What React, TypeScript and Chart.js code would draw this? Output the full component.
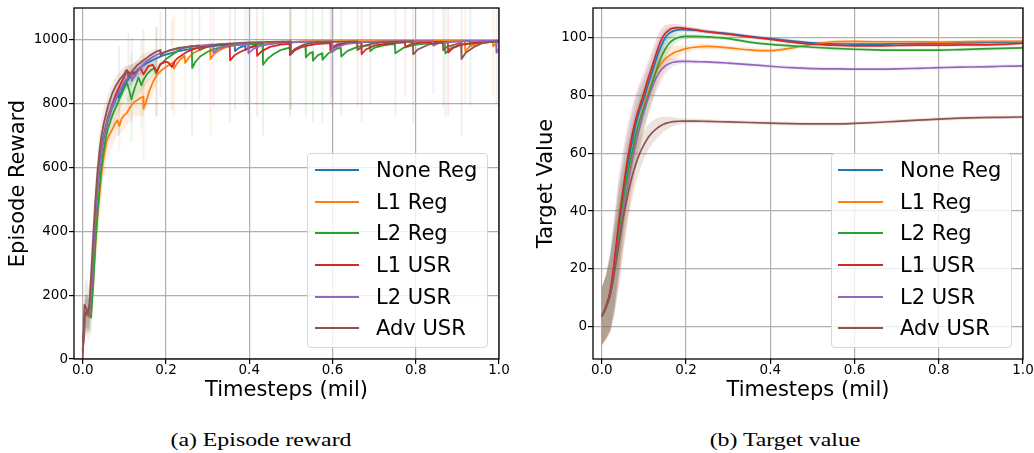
import React, { useEffect, useRef } from "react";
import { Chart, registerables } from "chart.js";

Chart.register(...registerables);
Chart.defaults.font.family = "'DejaVu Sans', sans-serif";

type Pt = [number, number];
type Spike = [number, number, number];

const seriesNames = ["None Reg", "L1 Reg", "L2 Reg", "L1 USR", "L2 USR", "Adv USR"];
const seriesColors = ["#1f77b4", "#ff7f0e", "#2ca02c", "#d62728", "#9467bd", "#8c564b"];

const xTicks = [0, 0.2, 0.4, 0.6, 0.8, 1.0];
const rewardTicks = [0, 200, 400, 600, 800, 1000];
const targetTicks = [0, 20, 40, 60, 80, 100];

// ---- Episode reward: [timesteps (mil), reward] ----
const noneRegReward: Pt[] = [
  [0, 30], [0.005, 140], [0.01, 150], [0.015, 140], [0.02, 200], [0.025, 320], [0.03, 440], [0.035, 530],
  [0.04, 600], [0.045, 650], [0.05, 690], [0.06, 745], [0.07, 785], [0.08, 815], [0.086, 835], [0.087, 818],
  [0.095, 845], [0.105, 870], [0.115, 885], [0.125, 898], [0.14, 915], [0.155, 928], [0.17, 938], [0.19, 950],
  [0.21, 958], [0.23, 965], [0.26, 972], [0.3, 979], [0.34, 984], [0.365, 986], [0.366, 965], [0.375, 975],
  [0.39, 982], [0.391, 968], [0.4, 976], [0.42, 985], [0.46, 990], [0.5, 993], [0.56, 995], [0.597, 995],
  [0.598, 975], [0.61, 986], [0.64, 992], [0.7, 994], [0.76, 995], [0.8, 996], [0.86, 996], [0.9, 997],
  [0.93, 997], [0.931, 980], [0.945, 990], [0.97, 996], [1.0, 998],
];
const l1RegReward: Pt[] = [
  [0, 20], [0.005, 120], [0.01, 145], [0.015, 130], [0.02, 150], [0.025, 240], [0.03, 350], [0.035, 440],
  [0.04, 510], [0.045, 580], [0.05, 630], [0.058, 687], [0.066, 708], [0.072, 722], [0.078, 738], [0.083, 748],
  [0.088, 730], [0.093, 752], [0.1, 765], [0.106, 771], [0.112, 785], [0.118, 797], [0.125, 806], [0.132, 812],
  [0.138, 818], [0.145, 822], [0.146, 785], [0.152, 805], [0.16, 840], [0.17, 872], [0.18, 893], [0.19, 906],
  [0.2, 915], [0.21, 924], [0.218, 930], [0.219, 910], [0.226, 925], [0.235, 940], [0.245, 950], [0.246, 928],
  [0.255, 945], [0.265, 958], [0.28, 968], [0.295, 976], [0.306, 981], [0.307, 940], [0.315, 955], [0.325, 965],
  [0.34, 975], [0.36, 982], [0.4, 988], [0.45, 991], [0.5, 993], [0.52, 995], [0.6, 996], [0.7, 996],
  [0.8, 997], [0.9, 997], [0.918, 997], [0.919, 965], [0.93, 980], [0.95, 990], [0.985, 994], [0.986, 980],
  [0.993, 990], [1.0, 995],
];
const l2RegReward: Pt[] = [
  [0, 25], [0.005, 130], [0.01, 145], [0.015, 140], [0.02, 130], [0.025, 230], [0.03, 350], [0.035, 450],
  [0.04, 530], [0.045, 600], [0.05, 650], [0.055, 690], [0.06, 720], [0.07, 760], [0.08, 790], [0.09, 820],
  [0.1, 850], [0.106, 866], [0.11, 850], [0.117, 814], [0.125, 850], [0.134, 882], [0.141, 858], [0.146, 875],
  [0.154, 892], [0.162, 903], [0.172, 912], [0.176, 895], [0.186, 922], [0.2, 940], [0.222, 960], [0.234, 971],
  [0.262, 981], [0.263, 912], [0.27, 930], [0.282, 948], [0.3, 963], [0.32, 973], [0.346, 981], [0.39, 986],
  [0.432, 988], [0.433, 922], [0.445, 942], [0.458, 955], [0.475, 968], [0.497, 976], [0.498, 958], [0.51, 970],
  [0.525, 978], [0.535, 980], [0.536, 945], [0.545, 958], [0.552, 962], [0.553, 935], [0.565, 952], [0.575, 958],
  [0.576, 938], [0.59, 958], [0.61, 972], [0.62, 975], [0.621, 948], [0.635, 965], [0.66, 978], [0.69, 984],
  [0.691, 965], [0.7, 975], [0.72, 982], [0.74, 986], [0.75, 986], [0.751, 958], [0.77, 975], [0.8, 985],
  [0.84, 990], [0.87, 991], [0.871, 958], [0.885, 975], [0.91, 985], [0.94, 990], [0.98, 993], [1.0, 995],
];
const l1UsrReward: Pt[] = [
  [0, 30], [0.005, 135], [0.01, 150], [0.015, 140], [0.02, 210], [0.025, 330], [0.03, 450], [0.035, 540],
  [0.04, 610], [0.045, 660], [0.05, 700], [0.06, 755], [0.07, 795], [0.08, 830], [0.09, 860], [0.1, 885],
  [0.106, 905], [0.112, 895], [0.12, 900], [0.126, 888], [0.132, 905], [0.138, 913], [0.146, 892], [0.152, 905],
  [0.158, 918], [0.168, 922], [0.178, 900], [0.186, 924], [0.2, 932], [0.206, 929], [0.214, 915], [0.222, 935],
  [0.23, 945], [0.25, 962], [0.266, 971], [0.29, 980], [0.32, 985], [0.353, 988], [0.354, 936], [0.365, 952],
  [0.378, 962], [0.4, 975], [0.418, 982], [0.419, 950], [0.43, 965], [0.45, 978], [0.475, 985], [0.497, 988],
  [0.498, 952], [0.51, 968], [0.53, 980], [0.56, 987], [0.594, 990], [0.595, 968], [0.61, 982], [0.64, 990],
  [0.669, 992], [0.67, 955], [0.68, 970], [0.7, 982], [0.73, 988], [0.774, 992], [0.775, 978], [0.79, 988],
  [0.82, 993], [0.877, 994], [0.878, 960], [0.89, 975], [0.91, 985], [0.94, 991], [0.97, 994], [1.0, 997],
];
const l2UsrReward: Pt[] = [
  [0, 25], [0.005, 130], [0.01, 140], [0.015, 135], [0.02, 200], [0.025, 320], [0.03, 440], [0.035, 530],
  [0.04, 600], [0.045, 655], [0.05, 695], [0.06, 750], [0.07, 790], [0.08, 820], [0.09, 845], [0.1, 868],
  [0.11, 885], [0.117, 893], [0.118, 872], [0.126, 890], [0.14, 915], [0.154, 934], [0.17, 948], [0.186, 958],
  [0.21, 967], [0.24, 975], [0.28, 982], [0.313, 986], [0.314, 960], [0.325, 972], [0.35, 982], [0.397, 988],
  [0.398, 958], [0.41, 972], [0.43, 983], [0.47, 990], [0.52, 993], [0.599, 995], [0.6, 962], [0.612, 978],
  [0.635, 988], [0.67, 993], [0.72, 995], [0.8, 996], [0.841, 996], [0.842, 982], [0.855, 990], [0.9, 995],
  [0.96, 997], [0.993, 997], [0.994, 960], [1.0, 972],
];
const advUsrReward: Pt[] = [
  [0, 0], [0.004, 170], [0.008, 160], [0.012, 140], [0.016, 175], [0.02, 260], [0.025, 380], [0.03, 490],
  [0.035, 580], [0.04, 650], [0.045, 700], [0.05, 735], [0.06, 790], [0.07, 830], [0.08, 858], [0.09, 878],
  [0.1, 893], [0.105, 905], [0.11, 885], [0.118, 900], [0.13, 920], [0.145, 935], [0.16, 950], [0.175, 962],
  [0.186, 968], [0.187, 952], [0.195, 960], [0.21, 968], [0.23, 975], [0.26, 980], [0.279, 983], [0.28, 968],
  [0.29, 975], [0.32, 985], [0.36, 989], [0.4, 992], [0.45, 994], [0.499, 995], [0.5, 960], [0.51, 972],
  [0.53, 985], [0.56, 992], [0.6, 994], [0.659, 995], [0.66, 968], [0.67, 978], [0.69, 987], [0.72, 992],
  [0.75, 994], [0.793, 995], [0.794, 955], [0.805, 970], [0.83, 985], [0.865, 992], [0.866, 968], [0.875, 978],
  [0.9, 988], [0.909, 990], [0.91, 940], [0.92, 960], [0.94, 978], [0.96, 990], [1.0, 997],
];

// seed spread at the reward drops: [timesteps, low, high]
const noneRegRewardSpikes: Spike[] = [
  [0.087, 700, 980], [0.366, 780, 1100], [0.391, 800, 1100], [0.598, 820, 1100], [0.931, 790, 1100],
];
const l1RegRewardSpikes: Spike[] = [
  [0.088, 650, 840], [0.146, 620, 960], [0.219, 760, 1080], [0.246, 780, 1100], [0.307, 700, 1100],
  [0.919, 800, 1100], [0.986, 820, 1100],
];
const l2RegRewardSpikes: Spike[] = [
  [0.117, 680, 960], [0.141, 720, 1000], [0.176, 760, 1040], [0.263, 700, 1100], [0.433, 700, 1100],
  [0.498, 780, 1100], [0.536, 760, 1100], [0.553, 740, 1100], [0.576, 740, 1100], [0.621, 760, 1100],
  [0.691, 800, 1100], [0.751, 760, 1100], [0.871, 760, 1100],
];
const l1UsrRewardSpikes: Spike[] = [
  [0.146, 760, 1030], [0.178, 760, 1040], [0.214, 780, 1060], [0.354, 740, 1100], [0.419, 760, 1100],
  [0.498, 760, 1100], [0.595, 800, 1100], [0.67, 740, 1100], [0.775, 820, 1100], [0.878, 760, 1100],
];
const l2UsrRewardSpikes: Spike[] = [
  [0.118, 740, 1010], [0.314, 790, 1100], [0.398, 780, 1100], [0.6, 790, 1100], [0.842, 830, 1100],
  [0.994, 800, 1100],
];
const advUsrRewardSpikes: Spike[] = [
  [0.11, 760, 1020], [0.187, 820, 1090], [0.28, 810, 1100], [0.5, 780, 1100], [0.66, 790, 1100],
  [0.794, 740, 1100], [0.866, 790, 1100], [0.91, 700, 1100],
];

// early reward spread across seeds
const rewardBandSteps = [0, 0.005, 0.01, 0.015, 0.02, 0.03, 0.04, 0.05, 0.06, 0.08, 0.1, 0.12, 0.14, 0.16, 0.18];
const noneRegRewardLow = [0, 80, 100, 90, 140, 370, 540, 640, 705, 785, 837, 864, 892, 918, 935];
const noneRegRewardHigh = [60, 200, 200, 190, 260, 510, 660, 740, 785, 845, 887, 914, 932, 948, 955];
const l1RegRewardLow = [0, 60, 85, 80, 90, 270, 430, 560, 630, 695, 720, 760, 760, 800, 868];
const l1RegRewardHigh = [40, 180, 205, 180, 210, 430, 590, 700, 750, 795, 810, 840, 880, 880, 918];
const l2RegRewardLow = [0, 70, 85, 90, 70, 270, 460, 590, 670, 750, 815, 795, 840, 873, 898];
const l2RegRewardHigh = [50, 190, 205, 190, 190, 430, 600, 710, 770, 830, 885, 875, 910, 923, 938];
const l1UsrRewardLow = [0, 75, 100, 90, 150, 380, 550, 650, 715, 800, 860, 875, 888, 893, 905];
const l1UsrRewardHigh = [60, 195, 200, 190, 270, 520, 670, 750, 795, 860, 910, 925, 938, 943, 950];
const l2UsrRewardLow = [0, 70, 90, 85, 140, 370, 540, 645, 710, 790, 843, 860, 895, 925, 945];
const l2UsrRewardHigh = [50, 190, 190, 185, 260, 510, 660, 745, 790, 850, 893, 910, 935, 955, 965];
const advUsrRewardLow = [0, 90, 70, 60, 180, 420, 590, 685, 750, 828, 868, 875, 910, 935, 953];
const advUsrRewardHigh = [0, 250, 250, 220, 340, 560, 710, 785, 830, 888, 918, 925, 950, 965, 973];

// ---- Target value ----
const targetSteps = [
  0, 0.01, 0.02, 0.03, 0.04, 0.05, 0.06, 0.07, 0.08, 0.09,
  0.1, 0.11, 0.12, 0.13, 0.14, 0.15, 0.16, 0.17, 0.18, 0.19,
  0.2, 0.22, 0.25, 0.3, 0.35, 0.4, 0.45, 0.5, 0.55, 0.6,
  0.65, 0.7, 0.75, 0.8, 0.85, 0.9, 0.95, 1.0,
];
const noneRegTarget = [
  3.5, 7, 12, 22, 34, 45, 55, 62.5, 69.5, 75,
  79, 84, 88.5, 93, 97, 100, 101.7, 102.4, 102.8, 102.9,
  102.9, 102.7, 102.2, 101.5, 100.6, 99.8, 99, 98.3, 98, 97.9,
  97.9, 98, 98.1, 98.2, 98.3, 98.4, 98.5, 98.7,
];
const l1RegTarget = [
  3.5, 6.5, 11, 19, 29, 39, 48, 57, 64.5, 71,
  76.5, 81, 85, 88.5, 91, 92.7, 93.9, 94.8, 95.4, 95.9,
  96.3, 96.8, 97.1, 96.6, 95.9, 95.6, 96.5, 97.8, 98.7, 98.8,
  98.7, 98.7, 98.7, 98.6, 98.7, 98.8, 98.8, 98.8,
];
const l2RegTarget = [
  3.5, 7, 12, 21, 32, 43, 52, 59, 66, 71.5,
  76, 80, 84.5, 89, 93, 96, 98.2, 99.4, 100.1, 100.5,
  100.6, 100.6, 100.4, 99.8, 98.6, 97.8, 97.3, 96.8, 96.4, 96.1,
  95.9, 95.8, 95.8, 95.8, 96, 96.2, 96.4, 96.6,
];
const l1UsrTarget = [
  3.5, 7, 12.5, 23, 36, 47, 57, 65, 71.5, 76.5,
  81, 86, 90.5, 95, 99, 101.5, 102.8, 103.4, 103.6, 103.5,
  103.3, 102.9, 102.2, 101.3, 100.4, 99.5, 98.6, 97.9, 97.5, 97.3,
  97.3, 97.4, 97.5, 97.5, 97.6, 97.6, 97.8, 98.2,
];
const l2UsrTarget = [
  3.5, 6.5, 11, 19, 29, 39, 48, 56, 63, 69,
  74.5, 79, 83, 86.5, 88.8, 90.3, 91.1, 91.6, 91.8, 91.9,
  91.9, 91.8, 91.7, 91.3, 90.8, 90.2, 89.7, 89.4, 89.3, 89.2,
  89.2, 89.3, 89.5, 89.7, 89.9, 90, 90.2, 90.3,
];
const advUsrTarget = [
  3.5, 6.5, 11, 19, 28, 37, 44.5, 51, 56, 60,
  63, 65.5, 67.3, 68.6, 69.6, 70.3, 70.7, 71, 71.1, 71.2,
  71.2, 71.2, 71.1, 70.9, 70.7, 70.5, 70.3, 70.2, 70.2, 70.4,
  70.7, 71.1, 71.5, 71.9, 72.2, 72.4, 72.5, 72.6,
];

// half-width of the seed spread around each target curve
const noneRegTargetSpread = [
  10, 11, 13, 15, 15, 13, 11, 10, 9, 8,
  7, 6, 5.5, 5, 4, 3, 2.2, 1.6, 1.2, 1,
  0.9, 0.8, 0.7, 0.7, 0.6, 0.6, 0.6, 0.6, 0.6, 0.6,
  0.6, 0.6, 0.6, 0.6, 0.6, 0.6, 0.6, 0.6,
];
const l1RegTargetSpread = [
  10, 11, 13, 15, 16, 15, 13, 12, 10, 9,
  8, 7, 6.5, 6, 5, 4, 3, 2.5, 2, 1.5,
  1.2, 1, 0.9, 0.8, 0.8, 0.7, 0.7, 0.7, 0.7, 0.6,
  0.6, 0.6, 0.6, 0.6, 0.6, 0.6, 0.6, 0.6,
];
const l2RegTargetSpread = [
  10, 11, 13, 15, 15, 13, 11, 10, 9, 8,
  7, 6, 5.5, 5, 4.5, 3.5, 2.5, 1.8, 1.3, 1,
  0.9, 0.8, 0.7, 0.7, 0.6, 0.6, 0.6, 0.6, 0.6, 0.6,
  0.6, 0.6, 0.6, 0.6, 0.6, 0.6, 0.6, 0.6,
];
const l1UsrTargetSpread = [
  10, 11, 14, 16, 16, 14, 12, 10, 9, 8,
  7, 6, 5.5, 5, 4, 3, 2, 1.5, 1.2, 1,
  0.9, 0.8, 0.7, 0.7, 0.6, 0.6, 0.6, 0.6, 0.6, 0.6,
  0.6, 0.6, 0.6, 0.6, 0.6, 0.6, 0.6, 0.6,
];
const l2UsrTargetSpread = [
  10, 11, 13, 15, 15, 13, 11, 10, 9, 8,
  7, 6, 5.5, 5, 4, 3, 2, 1.4, 1.1, 0.9,
  0.8, 0.7, 0.6, 0.6, 0.6, 0.6, 0.6, 0.6, 0.6, 0.6,
  0.6, 0.6, 0.6, 0.6, 0.6, 0.6, 0.6, 0.6,
];
const advUsrTargetSpread = [
  10, 11, 13, 14, 13, 11, 9, 8, 7, 6,
  5, 4.5, 4, 3.5, 3, 2.5, 2, 1.5, 1.2, 1,
  0.9, 0.8, 0.7, 0.6, 0.6, 0.6, 0.6, 0.6, 0.6, 0.6,
  0.6, 0.6, 0.6, 0.6, 0.6, 0.6, 0.6, 0.6,
];

const rewardCurves = [noneRegReward, l1RegReward, l2RegReward, l1UsrReward, l2UsrReward, advUsrReward];
const rewardSpikes = [
  noneRegRewardSpikes, l1RegRewardSpikes, l2RegRewardSpikes,
  l1UsrRewardSpikes, l2UsrRewardSpikes, advUsrRewardSpikes,
];
const rewardLows = [noneRegRewardLow, l1RegRewardLow, l2RegRewardLow, l1UsrRewardLow, l2UsrRewardLow, advUsrRewardLow];
const rewardHighs = [noneRegRewardHigh, l1RegRewardHigh, l2RegRewardHigh, l1UsrRewardHigh, l2UsrRewardHigh, advUsrRewardHigh];
const targetCurves = [noneRegTarget, l1RegTarget, l2RegTarget, l1UsrTarget, l2UsrTarget, advUsrTarget];
const targetSpreads = [
  noneRegTargetSpread, l1RegTargetSpread, l2RegTargetSpread,
  l1UsrTargetSpread, l2UsrTargetSpread, advUsrTargetSpread,
];

function rgba(hex: string, a: number) {
  const n = parseInt(hex.slice(1), 16);
  return `rgba(${(n >> 16) & 255},${(n >> 8) & 255},${n & 255},${a})`;
}

// full black frame around the plot area, drawn over the curves
const framePlugin = {
  id: "frame",
  afterDraw(chart: any) {
    const { ctx, chartArea: a } = chart;
    ctx.save();
    ctx.strokeStyle = "#000";
    ctx.lineWidth = 1.3;
    ctx.strokeRect(a.left, a.top, a.right - a.left, a.bottom - a.top);
    ctx.restore();
  },
};

function bandPair(xs: number[], lo: number[], hi: number[], color: string, alpha: number) {
  return [
    {
      data: xs.map((x, i) => ({ x, y: lo[i] })),
      borderWidth: 0,
      borderColor: "transparent",
      pointRadius: 0,
      fill: false,
      order: 60,
    },
    {
      data: xs.map((x, i) => ({ x, y: hi[i] })),
      borderWidth: 0,
      borderColor: "transparent",
      pointRadius: 0,
      backgroundColor: rgba(color, alpha),
      fill: "-1",
      order: 60,
    },
  ];
}

function buildOptions(yTitle: string, yMin: number, yMax: number, yTicks: number[], yWidth: number, yTitleGap: number) {
  return {
    responsive: false,
    maintainAspectRatio: false,
    animation: false,
    events: [],
    layout: { padding: { top: 8, right: 11, left: 0, bottom: 0 } },
    plugins: { legend: { display: false }, tooltip: { enabled: false } },
    elements: { line: { borderJoinStyle: "round", tension: 0 }, point: { radius: 0, hoverRadius: 0 } },
    scales: {
      x: {
        type: "linear",
        min: -0.021,
        max: 1.0,
        afterBuildTicks: (s: any) => {
          s.ticks = xTicks.map((v) => ({ value: v }));
        },
        afterFit: (s: any) => {
          s.height = 51;
        },
        ticks: {
          color: "#000",
          font: { size: 13.5, lineHeight: 1 },
          padding: 0,
          maxRotation: 0,
          autoSkip: false,
          callback: (v: any) => Number(v).toFixed(1),
        },
        grid: { color: "#b0b0b0", lineWidth: 1.2, drawTicks: true, tickLength: 5, tickColor: "#000", tickWidth: 1.2 },
        border: { display: false },
        title: {
          display: true,
          text: "Timesteps (mil)",
          color: "#000",
          font: { size: 21, lineHeight: 1 },
          padding: { top: 0, bottom: 8.5 },
        },
      },
      y: {
        type: "linear",
        min: yMin,
        max: yMax,
        afterBuildTicks: (s: any) => {
          s.ticks = yTicks.map((v) => ({ value: v }));
        },
        afterFit: (s: any) => {
          s.width = yWidth;
        },
        ticks: {
          color: "#000",
          font: { size: 13.5, lineHeight: 1 },
          padding: 1,
          autoSkip: false,
          callback: (v: any) => String(v),
        },
        grid: { color: "#b0b0b0", lineWidth: 1.2, drawTicks: true, tickLength: 5, tickColor: "#000", tickWidth: 1.2 },
        border: { display: false },
        title: {
          display: true,
          text: yTitle,
          color: "#000",
          font: { size: 21, lineHeight: 1 },
          padding: { top: yTitleGap, bottom: 0 },
        },
      },
    },
  };
}

function rewardConfig() {
  const datasets: any[] = [];
  seriesColors.forEach((color, k) => {
    datasets.push(...bandPair(rewardBandSteps, rewardLows[k], rewardHighs[k], color, 0.12));
    const segs: any[] = [];
    rewardSpikes[k].forEach(([x, lo, hi]) => {
      segs.push({ x, y: lo }, { x, y: hi }, { x, y: null });
    });
    datasets.push({
      data: segs,
      borderColor: rgba(color, 0.1),
      borderWidth: 2,
      pointRadius: 0,
      spanGaps: false,
      fill: false,
      order: 50,
    });
  });
  rewardCurves.forEach((curve, k) => {
    datasets.push({
      label: seriesNames[k],
      data: curve.map(([x, y]) => ({ x, y })),
      borderColor: seriesColors[k],
      borderWidth: 1.8,
      pointRadius: 0,
      fill: false,
      order: 5 - k,
    });
  });
  return {
    type: "line",
    data: { datasets },
    options: buildOptions("Episode Reward", 0, 1100, rewardTicks, 74, 8),
    plugins: [framePlugin],
  };
}

function targetConfig() {
  const datasets: any[] = [];
  seriesColors.forEach((color, k) => {
    const lo = targetCurves[k].map((v, i) => v - targetSpreads[k][i]);
    const hi = targetCurves[k].map((v, i) => v + targetSpreads[k][i]);
    datasets.push(...bandPair(targetSteps, lo, hi, color, 0.16));
  });
  targetCurves.forEach((curve, k) => {
    datasets.push({
      label: seriesNames[k],
      data: targetSteps.map((x, i) => ({ x, y: curve[i] })),
      borderColor: seriesColors[k],
      borderWidth: 1.7,
      pointRadius: 0,
      cubicInterpolationMode: "monotone",
      fill: false,
      order: 5 - k,
    });
  });
  return {
    type: "line",
    data: { datasets },
    options: buildOptions("Target Value", -11.3, 110.4, targetTicks, 73, 16),
    plugins: [framePlugin],
  };
}

function ChartCanvas({ build, left, width }: { build: () => any; left: number; width: number }) {
  const ref = useRef<HTMLCanvasElement | null>(null);
  useEffect(() => {
    const chart = new Chart(ref.current as HTMLCanvasElement, build());
    return () => chart.destroy();
  }, []);
  return (
    <canvas
      ref={ref}
      width={width}
      height={410}
      style={{ position: "absolute", left, top: 0, width, height: 410 }}
    />
  );
}

const legendRowCenters = [16, 47.7, 79.3, 111, 142.7, 174.3];

function Legend({ left, lineLeft, lineWidth }: { left: number; lineLeft: number; lineWidth: number }) {
  return (
    <div
      style={{
        position: "absolute",
        left,
        top: 153,
        width: 181,
        height: 195,
        boxSizing: "border-box",
        border: "1px solid #d6d6d6",
        borderRadius: 4,
        background: "rgba(255,255,255,0.8)",
      }}
    >
      {seriesNames.map((name, k) => (
        <div key={name} style={{ position: "absolute", left: 0, top: legendRowCenters[k] - 16, width: "100%", height: 32 }}>
          <div
            style={{
              position: "absolute",
              left: lineLeft,
              top: 15,
              width: lineWidth,
              height: 2,
              background: seriesColors[k],
            }}
          />
          <div
            style={{
              position: "absolute",
              left: 68,
              top: 0,
              lineHeight: "32px",
              fontSize: 21,
              fontFamily: "'DejaVu Sans', sans-serif",
              color: "#000",
              whiteSpace: "nowrap",
            }}
          >
            {name}
          </div>
        </div>
      ))}
    </div>
  );
}

function Caption({ center, text }: { center: number; text: string }) {
  return (
    <div
      style={{
        position: "absolute",
        left: center - 150,
        top: 430,
        width: 300,
        textAlign: "center",
        fontFamily: "'Liberation Serif', 'Times New Roman', serif",
        fontSize: 19.5,
        lineHeight: "19.5px",
        color: "#000",
        transform: "scaleX(1.22)",
        transformOrigin: "center",
        whiteSpace: "nowrap",
      }}
    >
      {text}
    </div>
  );
}

export default function App() {
  return (
    <div style={{ position: "fixed", left: 0, top: 0, width: 1034, height: 453, background: "#fff", overflow: "hidden" }}>
      <ChartCanvas build={rewardConfig} left={0} width={510} />
      <ChartCanvas build={targetConfig} left={520} width={514} />
      <Legend left={307} lineLeft={7} lineWidth={44} />
      <Legend left={831} lineLeft={6} lineWidth={45} />
      <Caption center={261} text="(a) Episode reward" />
      <Caption center={785} text="(b) Target value" />
    </div>
  );
}
